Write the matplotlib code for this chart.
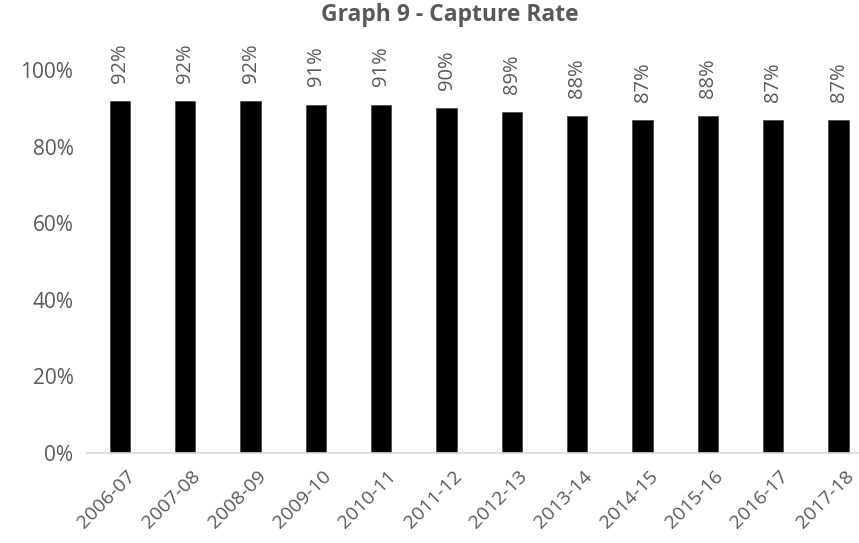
import matplotlib.pyplot as plt
from matplotlib.ticker import FuncFormatter
from matplotlib.transforms import ScaledTranslation

# financial years and capture rate (%)
years = ['2006-07', '2007-08', '2008-09', '2009-10', '2010-11', '2011-12',
         '2012-13', '2013-14', '2014-15', '2015-16', '2016-17', '2017-18']
capture_rate = [92, 92, 92, 91, 91, 90, 89, 88, 87, 88, 87, 87]
y_ticks = [0, 20, 40, 60, 80, 100]

plt.rcParams['font.family'] = ['Open Sans', 'DejaVu Sans']
grey = '#595959'

fig = plt.figure(figsize=(8.59, 5.43), dpi=100)
ax = fig.add_axes([0.1016, 0.1657, 0.9127, 0.7053])

x = range(len(years))
bars = ax.bar(x, capture_rate, width=0.31, color='black', edgecolor='#404040', linewidth=0.5)

# data labels, rotated, above each bar
for xi, v in zip(x, capture_rate):
    ax.annotate(f'{v}%', (xi, v), xytext=(0, 13), textcoords='offset points',
                rotation=90, ha='center', va='bottom', fontsize=14.5, color=grey)

ax.set_xlim(-0.5, len(years) - 0.5)
ax.set_ylim(0, 100)
ax.set_yticks(y_ticks)
ax.yaxis.set_major_formatter(FuncFormatter(lambda v, p: f'{v:.0f}%'))
ax.set_xticks(list(x))
ax.set_xticklabels(years, rotation=45, ha='right', rotation_mode='anchor')

ax.tick_params(axis='y', length=0, colors=grey, labelsize=15, pad=10)
ax.tick_params(axis='x', length=0, colors=grey, labelsize=14, pad=10)
# nudge rotated labels slightly right, as in the original
shift = ScaledTranslation(0.06, 0, fig.dpi_scale_trans)
for lbl in ax.get_xticklabels():
    lbl.set_transform(lbl.get_transform() + shift)
for s in ['top', 'right', 'left']:
    ax.spines[s].set_visible(False)
ax.spines['bottom'].set_color('#D9D9D9')
ax.spines['bottom'].set_linewidth(1.2)

fig.text(0.524, 0.995, 'Graph 9 - Capture Rate', ha='center', va='top',
         fontsize=16.5, fontweight='bold', color=grey)

fig.savefig('out.png', dpi=100)
